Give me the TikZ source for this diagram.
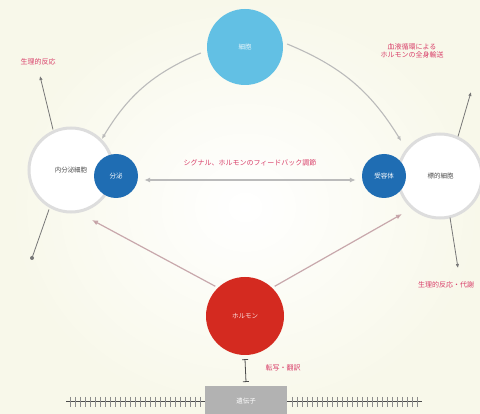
\documentclass[tikz,border=0pt]{standalone}
\usepackage{fontspec}
\newfontfamily\jp{Noto Sans CJK JP}
\usetikzlibrary{arrows.meta,calc}
\definecolor{bgc}{HTML}{F8F8EA}
\definecolor{lblue}{HTML}{62C0E4}
\definecolor{dblue}{HTML}{1F6DB3}
\definecolor{hred}{HTML}{D42A20}
\definecolor{ringc}{HTML}{DDDDDD}
\definecolor{arrc}{HTML}{BBBBBB}
\definecolor{redtxt}{HTML}{D9406A}
\definecolor{darr}{HTML}{777777}
\definecolor{rarr}{HTML}{C8A8AC}
\tikzset{
  bigring/.style={circle,draw=ringc,line width=3pt,fill=white,minimum size=84pt,inner sep=0pt,font=\jp\fontsize{6.5}{7}\selectfont,text=black!70},
  dot/.style={circle,fill=#1,minimum size=44pt,inner sep=0pt,font=\jp\fontsize{6.5}{7}\selectfont,text=white},
  lbl/.style={font=\jp\fontsize{7}{8.5}\selectfont,text=redtxt,align=center},
  conn/.style={draw=arrc,line width=1.1pt,-{Latex[length=5pt,width=4pt]}},
  thin/.style={draw=darr,line width=0.8pt},
  diag/.style={draw=rarr,line width=1.2pt}
}
\begin{document}
\begin{tikzpicture}[x=1pt,y=-1pt]
\fill[bgc] (0,0) rectangle (480,414);
\shade[inner color=white,outer color=bgc] (10,0) rectangle (480,414);
\useasboundingbox (0,0) rectangle (480,414);
% nodes
\node[circle,fill=lblue,minimum size=76pt,inner sep=0pt,font=\jp\fontsize{6.5}{7}\selectfont,text=white!85!lblue] (top) at (245,47) {細胞};
\node[bigring] (lring) at (71,170) {内分泌細胞};
\node[bigring] (rring) at (440,176) {\ 標的細胞};
\node[dot=dblue] (lb) at (116,176) {分泌};
\node[dot=dblue] (rb) at (384,176) {受容体};
\node[circle,fill=hred,minimum size=78pt,inner sep=0pt,font=\jp\fontsize{6.5}{7}\selectfont,text=white!85!hred] (horm) at (245,316) {ホルモン};
% DNA
\coordinate (dl) at (66,402);
\coordinate (dr) at (422,402);
\draw[black!70,line width=1pt] (dl) -- (dr);
\foreach \x in {70,75,...,200} {\draw[black!45,line width=0.5pt] (\x,397) -- (\x,407);}
\foreach \x in {292,297,...,420} {\draw[black!45,line width=0.5pt] (\x,397) -- (\x,407);}
\node[fill=black!30,minimum width=82pt,minimum height=30pt,inner sep=0pt,anchor=north,font=\jp\fontsize{6.5}{7}\selectfont,text=white] (gene) at (246,386) {遺伝子};
% I-beam
\draw[black!70,line width=0.8pt,{Bar[width=6pt]}-{Bar[width=6pt]}] ($(horm.south)+(0,4)$) -- ($(gene.north)+(0,-4)$);
\node[lbl,anchor=west] (tl) at (262,368) {転写・翻訳};
% curved arrows from top
\draw[conn] ($(top.west)+(-6,6)$) to[bend right=18] (lring.north east);
\draw[conn] ($(top.east)+(4,-3)$) to[bend left=18] ($(rring.north west)+(-8,-4)$);
\node[lbl] (trl) at (412,51) {血液循環による\\ホルモンの全身輸送};
% horizontal double arrow
\draw[draw=arrc,line width=1.6pt,{Latex[length=6pt,width=5pt,fill=darr]}-{Latex[length=6pt,width=5pt,fill=darr]}] ($(lb.east)+(6,4)$) -- ($(rb.west)+(-6,4)$);
\node[lbl] (hl) at (250,163) {シグナル、ホルモンのフィードバック調節};
% left outward
\coordinate (lu) at (40,76);
\draw[thin,-{Latex[length=4pt,width=3.5pt]}] ($(lring.north)+(-18,3)$) -- (lu);
\node[lbl] (lul) at (38,62) {生理的反応};
\coordinate (ld) at (32,258);
\draw[thin] ($(lring.south)+(-22,-4)$) -- (ld);
\fill[darr] (ld) circle (2pt);
% right outward
\coordinate (ru) at (471,92);
\draw[thin,-{Latex[length=4pt,width=3.5pt]}] ($(rring.north)+(18,4)$) -- (ru);
\coordinate (rd) at (458,268);
\draw[thin,-{Latex[length=4pt,width=3.5pt]}] ($(rring.south)+(10,-2)$) -- (rd);
\node[lbl] (rdl) at (446,285) {生理的反応・代謝};
% diagonals
\draw[diag,-{Latex[length=6pt,width=5pt,fill=hred!70!black]}] ($(horm.north west)+(-2,-2)$) -- (92,220);
\draw[diag,-{Latex[length=6pt,width=5pt,fill=hred!70!black]}] ($(horm.north east)+(2,-2)$) -- (402,214);
\end{tikzpicture}
\end{document}
